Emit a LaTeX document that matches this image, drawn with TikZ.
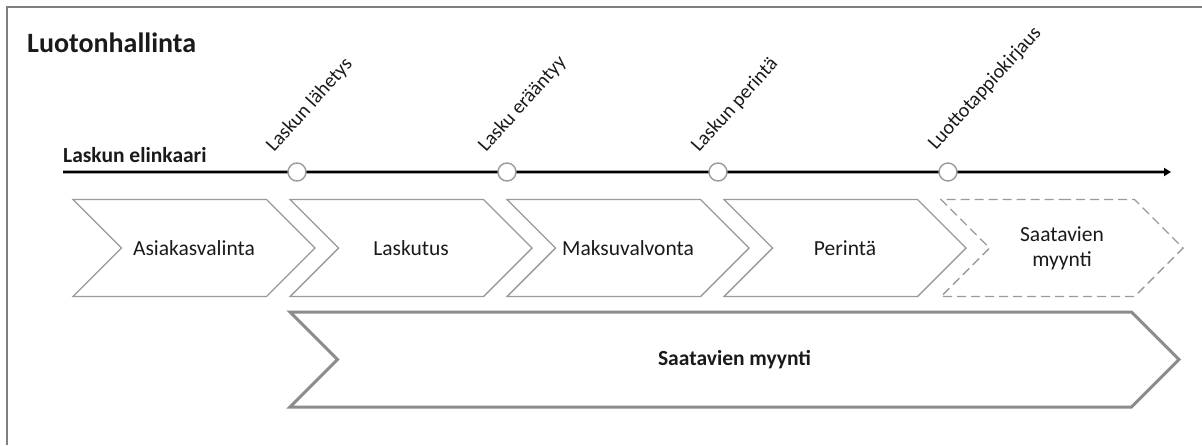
\documentclass[tikz,border=0pt]{standalone}
\usepackage{fontspec}
\setmainfont{Carlito}
\usetikzlibrary{shapes.symbols,arrows.meta}
\definecolor{edgegray}{HTML}{9A9A9A}
\definecolor{biggray}{HTML}{8C8C8C}
\definecolor{framegray}{HTML}{7F7F7F}
\definecolor{txt}{HTML}{1A1A1A}
\tikzset{
  chev/.style={shape=signal, signal from=west, signal to=east, signal pointer angle=90,
    draw=edgegray, line width=1.4pt, fill=white, minimum width=242pt, minimum height=97pt,
    inner sep=0pt, text=txt, font=\fontsize{21.5}{25}\selectfont, align=center},
  bigchev/.style={chev, draw=biggray, line width=3pt, minimum width=889pt, minimum height=95pt,
    font=\bfseries\fontsize{21.5}{25}\selectfont},
  milestone/.style={circle, draw=edgegray, line width=1.4pt, fill=white, minimum size=18pt, inner sep=0pt},
  mlabel/.style={anchor=base west, rotate=48, inner sep=0pt, text=txt, font=\fontsize{20}{24}\selectfont},
}
\begin{document}
\begin{tikzpicture}[x=1pt,y=-1pt]
\useasboundingbox (0,0) rectangle (1202,445);
% frame
\draw[framegray, line width=1.5pt] (7,445) -- (7,7) -- (1202,7);
% title
\node[anchor=base west, inner sep=0pt, text=txt, font=\bfseries\fontsize{28}{32}\selectfont] (title) at (27,52) {Luotonhallinta};
\node[anchor=base west, inner sep=0pt, text=txt, font=\bfseries\fontsize{21.5}{25}\selectfont] (lifecycle) at (63,162) {Laskun elinkaari};
% timeline
\coordinate (tlstart) at (63,172);
\coordinate (tlend) at (1171,172);
\draw[gray!70, line width=4.5pt] (tlstart) -- (1164,172);
\draw[black, line width=2.6pt, -{Triangle[length=7pt,width=8pt]}] (tlstart) -- (tlend);
% milestones
\node[milestone] (m1) at (297,172) {};
\node[milestone] (m2) at (507,172) {};
\node[milestone] (m3) at (718,172) {};
\node[milestone] (m4) at (948,172) {};
\node[mlabel] (l1) at (274,153) {Laskun lähetys};
\node[mlabel] (l2) at (486,153) {Lasku erääntyy};
\node[mlabel] (l3) at (699,153) {Laskun perintä};
\node[mlabel] (l4) at (936,151) {Luottotappiokirjaus};
% chevrons
\node[chev] (c1) at (194,248) {Asiakasvalinta};
\node[chev] (c2) at (411,248) {Laskutus};
\node[chev] (c3) at (628,248) {Maksuvalvonta};
\node[chev] (c4) at (845,248) {Perintä};
\node[chev, dashed, dash pattern=on 9pt off 5pt] (c5) at (1062,248) {Saatavien\\myynti};
\node[bigchev] (big) at (734.5,359.5) {Saatavien myynti};
\end{tikzpicture}
\end{document}
